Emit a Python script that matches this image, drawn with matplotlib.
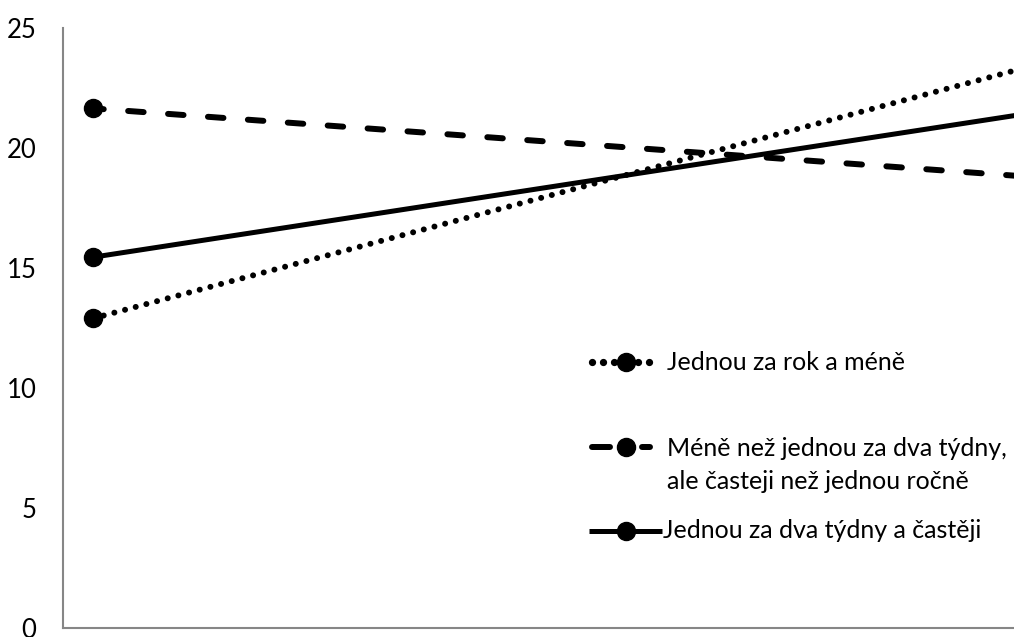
import matplotlib
matplotlib.use("Agg")
import matplotlib.pyplot as plt
from matplotlib.lines import Line2D

# Data: two measurement points per group
x_points = [0, 1]
series_names = [
    "Jednou za rok a méně",
    "Méně než jednou za dva týdny,\nale časteji než jednou ročně",
    "Jednou za dva týdny a častěji",
]
rarely = [12.9, 23.4]
sometimes = [21.65, 18.8]
often = [15.45, 21.45]
y_ticks = [0, 5, 10, 15, 20, 25]

plt.rcParams["font.family"] = ["Lato", "DejaVu Sans"]

W, H = 1014, 637
fig = plt.figure(figsize=(W / 100, H / 100), dpi=100)

left_px, right_px = 63, 1014
top_px, bottom_px = 28, 628
ax = fig.add_axes([left_px / W, (H - bottom_px) / H,
                   (right_px - left_px) / W, (bottom_px - top_px) / H])

# x mapping: point 0 at pixel 93, point 1 at pixel 1030 (just beyond the edge)
p0, p1 = 93, 1030
scale = p1 - p0
ax.set_xlim((left_px - p0) / scale, (right_px - p0) / scale)
ax.set_ylim(0, 25)

dot_lw = 4.3
dot_style = (0, (0.01, 1.84))
ax.plot(x_points, rarely, color="black", lw=dot_lw, linestyle=dot_style,
        dash_capstyle="round", marker="o", markersize=13)
ax.plot(x_points, sometimes, color="black", lw=4.3, linestyle=(0.8, (2.6, 4.1)),
        dash_capstyle="round", marker="o", markersize=13)
ax.plot(x_points, often, color="black", lw=3.6, solid_capstyle="butt",
        marker="o", markersize=13)

ax.set_yticks(y_ticks)
ax.set_yticklabels([str(v) for v in y_ticks], fontsize=18.5)
ax.tick_params(axis="y", length=0, pad=19)
ax.set_xticks([])
for side in ("top", "right"):
    ax.spines[side].set_visible(False)
for side in ("left", "bottom"):
    ax.spines[side].set_color("#868686")
    ax.spines[side].set_linewidth(1.5)


def fx(px):
    return px / W


def fy(py):
    return (H - py) / H


def seg(x0, x1, py, **style):
    fig.add_artist(Line2D([fx(x0), fx(x1)], [fy(py), fy(py)], color="black",
                          transform=fig.transFigure, **style))


def dot(px, py, size):
    fig.add_artist(Line2D([fx(px)], [fy(py)], color="black", marker="o",
                          markersize=size, linestyle="none",
                          transform=fig.transFigure))


# Legend drawn in figure coordinates
marker_x = 626
legend_y = [362, 447, 531]

# dotted entry
for px in (592, 603, 614, 638, 649):
    dot(px, legend_y[0], 4.2)
# dashed entry
seg(592, 610, legend_y[1], lw=4.3, solid_capstyle="round")
seg(642, 650, legend_y[1], lw=4.3, solid_capstyle="round")
# solid entry
seg(589, 662, legend_y[2], lw=3.6, solid_capstyle="butt")
for py in legend_y:
    dot(marker_x, py, 13)

fs = 18
fig.text(fx(667), fy(legend_y[0]), series_names[0], fontsize=fs, va="center", ha="left")
fig.text(fx(667), fy(437), series_names[1], fontsize=fs, va="top", ha="left",
         linespacing=1.55)
fig.text(fx(663), fy(legend_y[2]), series_names[2], fontsize=fs, va="center", ha="left")

fig.savefig("out.png", dpi=100)
